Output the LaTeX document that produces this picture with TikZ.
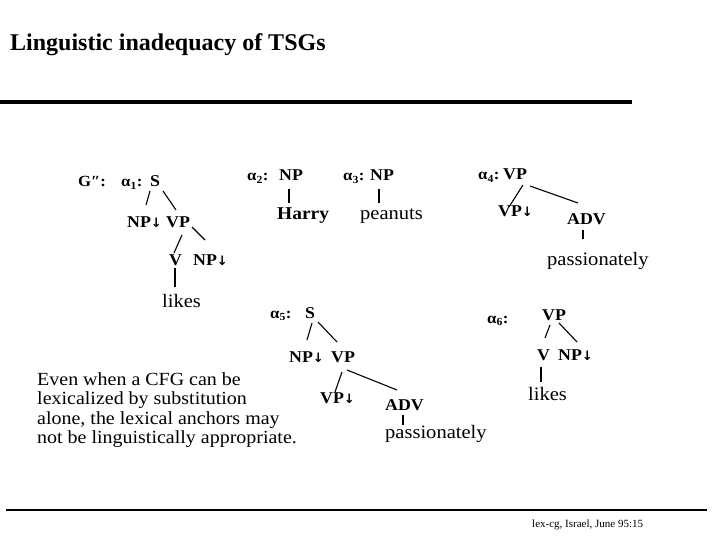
\documentclass[tikz,border=0pt]{standalone}
\usepackage{fontspec}
\setmainfont{Liberation Serif}[FakeStretch=1.08]
\newfontfamily\titlefont{Liberation Serif}
\newfontfamily\arrowfont{DejaVu Sans}
\newcommand{\dnarrow}{{\arrowfont\bfseries\fontsize{13}{13}\selectfont ↓}}
\usetikzlibrary{calc}
\tikzset{
  cat/.style={font=\bfseries\fontsize{16.5}{16.5}\selectfont, inner sep=0pt, anchor=base west},
  lab/.style={font=\bfseries\fontsize{15.5}{15.5}\selectfont, inner sep=0pt, anchor=base west},
  word/.style={font=\fontsize{19}{19}\selectfont, inner sep=0pt, anchor=base west},
  wordb/.style={font=\bfseries\fontsize{18}{18}\selectfont, inner sep=0pt, anchor=base west},
  para/.style={font=\fontsize{18.5}{19.5}\selectfont, inner sep=0pt, anchor=base west},
  edge/.style={line width=1.1pt},
}
\begin{document}
\begin{tikzpicture}[x=1pt,y=-1pt]
\useasboundingbox (0,0) rectangle (720,540);
% title and rules
\node[inner sep=0pt, anchor=base west, font=\titlefont\bfseries\fontsize{24}{24}\selectfont] (title) at (10,51) {Linguistic inadequacy of TSGs};
\fill (0,100) rectangle (632,104);
\draw[line width=1.2pt] (6,510) -- (707,510);
\node[inner sep=0pt, anchor=base west, font=\titlefont\fontsize{11}{11}\selectfont] (foot) at (532,527) {lex-cg, Israel, June 95:15};

% tree 1
\node[lab] (g) at (78,187) {G″:};
\node[lab] (a1) at (121,187) {α\textsubscript{1}:};
\node[cat] (s1) at (150,187) {S};
\node[cat] (np1) at (127,227) {NP\dnarrow};
\node[cat] (vp1) at (166,227) {VP};
\node[cat] (v1) at (169,265) {V};
\node[cat] (np1b) at (193,265) {NP\dnarrow};
\node[word] (likes1) at (162,307) {likes};
\draw[edge] ($(s1.base west)+(0,4)$) -- ($(np1.base west)+(19,-22)$);
\draw[edge] ($(s1.base west)+(13,4)$) -- ($(vp1.base west)+(10,-17)$);
\draw[edge] ($(vp1.base west)+(16,8)$) -- ($(v1.base west)+(5,-12)$);
\draw[edge] ($(vp1.base west)+(26,0)$) -- ($(np1b.base west)+(12,-25)$);
\draw[edge] ($(v1.base west)+(6,3)$) -- ($(likes1.base west)+(13,-20)$);

% tree 2
\node[lab] (a2) at (247,181) {α\textsubscript{2}:};
\node[cat] (np2) at (279,181) {NP};
\node[wordb] (harry) at (277,220) {Harry};
\draw[edge] ($(np2.base west)+(10,8)$) -- ($(harry.base west)+(12,-17)$);

% tree 3
\node[lab] (a3) at (343,181) {α\textsubscript{3}:};
\node[cat] (np3) at (370,181) {NP};
\node[word] (peanuts) at (360,220) {peanuts};
\draw[edge] ($(np3.base west)+(9,8)$) -- ($(peanuts.base west)+(19,-17)$);

% tree 4
\node[lab] (a4) at (478,180) {α\textsubscript{4}:};
\node[cat] (vp4) at (503,180) {VP};
\node[cat] (vp4b) at (498,217) {VP\dnarrow};
\node[cat] (adv4) at (567,225) {ADV};
\node[word] (pass4) at (547,265) {passionately};
\draw[edge] ($(vp4.base west)+(20,5)$) -- ($(vp4b.base west)+(11,-10)$);
\draw[edge] ($(vp4.base west)+(27,6)$) -- ($(adv4.base west)+(11,-22)$);
\draw[edge] ($(adv4.base west)+(16,5)$) -- ($(pass4.base west)+(36,-26)$);

% tree 5
\node[lab] (a5) at (270,318) {α\textsubscript{5}:};
\node[cat] (s5) at (305,318) {S};
\node[cat] (np5) at (289,362) {NP\dnarrow};
\node[cat] (vp5) at (331,362) {VP};
\node[cat] (vp5b) at (320,403) {VP\dnarrow};
\node[cat] (adv5) at (385,410) {ADV};
\node[word] (pass5) at (385,438) {passionately};
\draw[edge] ($(s5.base west)+(7,5)$) -- ($(np5.base west)+(18,-22)$);
\draw[edge] ($(s5.base west)+(13,4)$) -- ($(vp5.base west)+(6,-20)$);
\draw[edge] ($(vp5.base west)+(11,10)$) -- ($(vp5b.base west)+(15,-11)$);
\draw[edge] ($(vp5.base west)+(16,8)$) -- ($(adv5.base west)+(12,-20)$);
\draw[edge] ($(adv5.base west)+(18,5)$) -- ($(pass5.base west)+(18,-13)$);

% tree 6
\node[lab] (a6) at (487,323) {α\textsubscript{6}:};
\node[cat] (vp6) at (542,320) {VP};
\node[cat] (v6) at (537,360) {V};
\node[cat] (np6) at (558,360) {NP\dnarrow};
\node[word] (likes6) at (528,400) {likes};
\draw[edge] ($(vp6.base west)+(8,5)$) -- ($(v6.base west)+(8,-22)$);
\draw[edge] ($(vp6.base west)+(17,3)$) -- ($(np6.base west)+(19,-18)$);
\draw[edge] ($(v6.base west)+(4,7)$) -- ($(likes6.base west)+(13,-18)$);

% paragraph
\node[para] (p1) at (37,385) {Even when a CFG can be};
\node[para] (p2) at (37,404.5) {lexicalized by substitution};
\node[para] (p3) at (37,424) {alone, the lexical anchors may};
\node[para] (p4) at (37,443.5) {not be linguistically appropriate.};
\end{tikzpicture}
\end{document}
